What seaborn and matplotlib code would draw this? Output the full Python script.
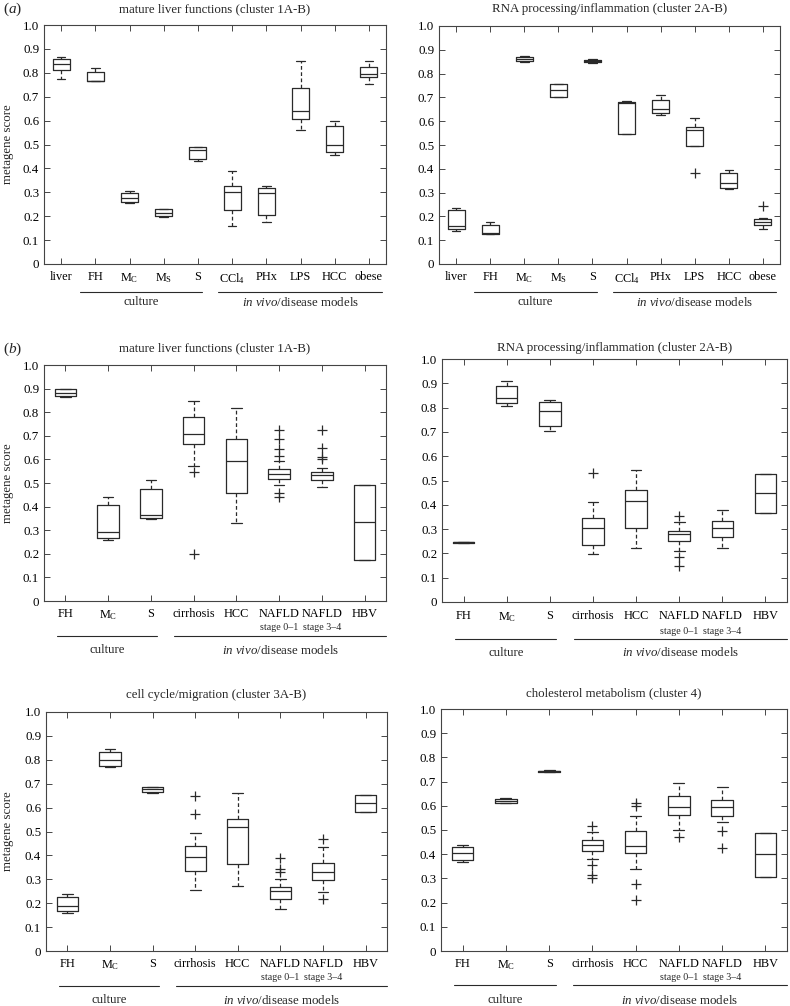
import numpy as np
import pandas as pd
import matplotlib
matplotlib.use("Agg")
import matplotlib.pyplot as plt
import seaborn as sns
from matplotlib.transforms import blended_transform_factory

# ---------------- data ----------------
# categories / tick labels
keys_a = ["liver", "FH", "MC", "MS", "S", "CCl4", "PHx", "LPS", "HCC", "obese"]
labels_a = ["liver", "FH", r"M$_\mathrm{C}$", r"M$_\mathrm{S}$", "S", r"CCl$_4$",
            "PHx", "LPS", "HCC", "obese"]
keys_b = ["FH", "MC", "S", "cirrhosis", "HCC", "NAFLD01", "NAFLD34", "HBV"]
labels_b = ["FH", r"M$_\mathrm{C}$", "S", "cirrhosis", "HCC", "NAFLD", "NAFLD", "HBV"]
stage_labels = {"NAFLD01": "stage 0\u20131", "NAFLD34": "stage 3\u20134"}

# box values per category: [lower whisker, q1, median, q3, upper whisker]
a_liver_box = [[0.775, 0.812, 0.835, 0.858, 0.865], [0.765, 0.765, 0.767, 0.805, 0.82],
               [0.255, 0.26, 0.275, 0.297, 0.305], [0.198, 0.199, 0.215, 0.23, 0.231],
               [0.43, 0.44, 0.475, 0.488, 0.49], [0.157, 0.225, 0.30, 0.325, 0.388],
               [0.175, 0.207, 0.295, 0.318, 0.325], [0.56, 0.607, 0.64, 0.737, 0.85],
               [0.458, 0.468, 0.497, 0.577, 0.60], [0.755, 0.782, 0.795, 0.823, 0.85]]
a_liver_out_cat = []
a_liver_out_val = []

a_rna_box = [[0.14, 0.147, 0.158, 0.225, 0.235], [0.125, 0.126, 0.13, 0.164, 0.175],
             [0.848, 0.851, 0.86, 0.869, 0.872], [0.703, 0.703, 0.731, 0.757, 0.757],
             [0.846, 0.849, 0.852, 0.857, 0.86], [0.547, 0.547, 0.676, 0.681, 0.683],
             [0.627, 0.634, 0.652, 0.69, 0.708], [0.497, 0.497, 0.561, 0.575, 0.613],
             [0.315, 0.319, 0.34, 0.382, 0.393], [0.148, 0.162, 0.175, 0.189, 0.195]]
a_rna_out_cat = ["LPS", "obese"]
a_rna_out_val = [0.382, 0.242]

b_liver_box = [[0.863, 0.869, 0.883, 0.897, 0.9], [0.258, 0.267, 0.294, 0.405, 0.442],
               [0.347, 0.353, 0.363, 0.475, 0.513], [0.574, 0.667, 0.709, 0.778, 0.847],
               [0.33, 0.456, 0.592, 0.685, 0.816], [0.49, 0.516, 0.537, 0.559, 0.595],
               [0.484, 0.511, 0.534, 0.548, 0.562], [0.174, 0.174, 0.336, 0.493, 0.493]]
b_liver_out_cat = ["cirrhosis", "cirrhosis"] + ["NAFLD01"] * 6 + ["NAFLD34"] * 4
b_liver_out_val = [0.547, 0.198, 0.723, 0.685, 0.645, 0.614, 0.456, 0.442,
                   0.723, 0.647, 0.612, 0.60]

b_rna_box = [[0.242, 0.243, 0.245, 0.247, 0.248], [0.807, 0.818, 0.841, 0.89, 0.908],
             [0.703, 0.724, 0.786, 0.821, 0.83], [0.196, 0.234, 0.303, 0.345, 0.41],
             [0.221, 0.303, 0.417, 0.462, 0.542], [0.211, 0.252, 0.28, 0.294, 0.331],
             [0.221, 0.266, 0.306, 0.335, 0.377], [0.368, 0.368, 0.448, 0.527, 0.527]]
b_rna_out_cat = ["cirrhosis", "NAFLD01", "NAFLD01", "NAFLD01"]
b_rna_out_val = [0.531, 0.354, 0.186, 0.149]

b_cell_box = [[0.159, 0.167, 0.19, 0.226, 0.24], [0.77, 0.775, 0.798, 0.833, 0.844],
              [0.662, 0.664, 0.679, 0.686, 0.688], [0.254, 0.333, 0.393, 0.439, 0.495],
              [0.272, 0.365, 0.519, 0.552, 0.662], [0.176, 0.218, 0.251, 0.268, 0.303],
              [0.247, 0.298, 0.331, 0.368, 0.435], [0.582, 0.582, 0.619, 0.654, 0.654]]
b_cell_out_cat = ["cirrhosis", "cirrhosis", "NAFLD01", "NAFLD01", "NAFLD01",
                  "NAFLD34", "NAFLD34"]
b_cell_out_val = [0.648, 0.575, 0.389, 0.342, 0.33, 0.467, 0.219]

b_chol_box = [[0.368, 0.377, 0.407, 0.428, 0.439], [0.611, 0.612, 0.62, 0.63, 0.631],
              [0.738, 0.739, 0.742, 0.745, 0.746], [0.38, 0.414, 0.439, 0.46, 0.492],
              [0.339, 0.407, 0.432, 0.494, 0.558], [0.501, 0.561, 0.595, 0.639, 0.695],
              [0.531, 0.556, 0.595, 0.623, 0.678], [0.305, 0.305, 0.40, 0.487, 0.487]]
b_chol_out_cat = ["cirrhosis"] * 4 + ["HCC"] * 4 + ["NAFLD01", "NAFLD34", "NAFLD34"]
b_chol_out_val = [0.517, 0.355, 0.314, 0.30, 0.61, 0.60, 0.277, 0.209, 0.473, 0.497, 0.425]

yticks = [0, 0.1, 0.2, 0.3, 0.4, 0.5, 0.6, 0.7, 0.8, 0.9, 1.0]
ytick_labels = ["0", "0.1", "0.2", "0.3", "0.4", "0.5", "0.6", "0.7", "0.8", "0.9", "1.0"]

# ---------------- style ----------------
sns.set_theme(style="ticks")
plt.rcParams["font.family"] = ["Liberation Serif", "DejaVu Serif"]
plt.rcParams["mathtext.fontset"] = "custom"
plt.rcParams["mathtext.rm"] = "Liberation Serif"
plt.rcParams["mathtext.it"] = "Liberation Serif:italic"
plt.rcParams["mathtext.bf"] = "Liberation Serif:bold"

W, H = 790, 1006
fig = plt.figure(figsize=(W / 100, H / 100), dpi=100)
LC = "#2a2a2a"
FS = 9.3
XFS = 8.8


def fy(py):
    return 1 - py / H


def panel(rect_px, keys, labels, boxes, out_cat, out_val, title, title_y,
          groups, tick_pad, stage_y, line_y, glabel_y, ylabel):
    x0, x1, yt, yb = rect_px
    ax = fig.add_axes([x0 / W, 1 - yb / H, (x1 - x0) / W, (yb - yt) / H])
    rows = [(k, v) for k, b in zip(keys, boxes) for v in b]
    df = pd.DataFrame(rows, columns=["cat", "val"])
    sns.boxplot(data=df, x="cat", y="val", order=keys, whis=(0, 100), fill=False,
                color=LC, linewidth=0.9, width=0.5, showfliers=False,
                whiskerprops=dict(linestyle=(0, (3, 2))), ax=ax)
    if out_cat:
        odf = pd.DataFrame({"cat": out_cat, "val": out_val})
        sns.stripplot(data=odf, x="cat", y="val", order=keys, jitter=False,
                      marker="+", color=LC, size=6.5, linewidth=0.9, ax=ax)
    n = len(keys)
    ax.set_xlim(-0.5, n - 0.5)
    ax.set_ylim(0, 1)
    ax.set_xticks(range(n))
    ax.set_xticklabels(labels)
    ax.set_yticks(yticks)
    ax.set_yticklabels(ytick_labels)
    ax.set_xlabel("")
    ax.set_ylabel("")
    ax.tick_params(direction="in", top=True, right=True, length=4, width=0.6,
                   colors=LC, labelcolor="black")
    ax.tick_params(axis="x", pad=tick_pad, labelsize=XFS)
    ax.tick_params(axis="y", pad=3.5, labelsize=FS)
    for s in ax.spines.values():
        s.set_linewidth(0.8)
        s.set_color("#444444")
    ax.set_title(title, fontsize=FS, y=1.0, pad=0)
    ax.title.set_position((0.5, (fy(title_y) - (1 - yb / H)) / ((yb - yt) / H)))
    ax.title.set_va("center")
    tr = blended_transform_factory(ax.transData, fig.transFigure)
    for i, k in enumerate(keys):
        if k in stage_labels and stage_y is not None:
            ax.text(i, fy(stage_y), stage_labels[k], transform=tr, ha="center",
                    va="center", fontsize=7.2)
    for (gx0, gx1, gtxt) in groups:
        ax.plot([gx0, gx1], [fy(line_y), fy(line_y)], transform=tr, color=LC,
                lw=0.8, clip_on=False)
        ax.text((gx0 + gx1) / 2, fy(glabel_y), gtxt, transform=tr, ha="center",
                va="center", fontsize=FS)
    if ylabel:
        fig.text(8 / W, fy((yt + yb) / 2), "metagene score", rotation=90,
                 ha="center", va="center", fontsize=FS)
    return ax


invivo = r"$\mathit{in\ vivo}$/disease models"
groups_a = [(0.54, 4.13, "culture"), (4.6, 9.38, invivo)]
groups_b = [(-0.19, 2.15, "culture"), (2.55, 7.5, invivo)]

panel((44, 386, 25, 264), keys_a, labels_a, a_liver_box, a_liver_out_cat, a_liver_out_val,
      "mature liver functions (cluster 1A-B)", 9, groups_a, 5, None, 292, 302, True)
panel((439, 780, 26, 264), keys_a, labels_a, a_rna_box, a_rna_out_cat, a_rna_out_val,
      "RNA processing/inflammation (cluster 2A-B)", 9, groups_a, 5, None, 292, 302, False)
panel((44, 386, 365, 601), keys_b, labels_b, b_liver_box, b_liver_out_cat, b_liver_out_val,
      "mature liver functions (cluster 1A-B)", 348, groups_b, 5, 627, 636, 650, True)
panel((442, 787, 359, 602), keys_b, labels_b, b_rna_box, b_rna_out_cat, b_rna_out_val,
      "RNA processing/inflammation (cluster 2A-B)", 348, groups_b, 6, 631, 639, 653, False)
panel((46, 387, 712, 951), keys_b, labels_b, b_cell_box, b_cell_out_cat, b_cell_out_val,
      "cell cycle/migration (cluster 3A-B)", 695, groups_b, 5, 977, 986, 1000, True)
panel((441, 787, 709, 951), keys_b, labels_b, b_chol_box, b_chol_out_cat, b_chol_out_val,
      "cholesterol metabolism (cluster 4)", 693, groups_b, 5, 977, 985, 1000, False)

fig.text(3 / W, fy(9), r"($\mathit{a}$)", fontsize=11, va="center", ha="left")
fig.text(3 / W, fy(349), r"($\mathit{b}$)", fontsize=11, va="center", ha="left")

fig.savefig("out.png", dpi=100)
